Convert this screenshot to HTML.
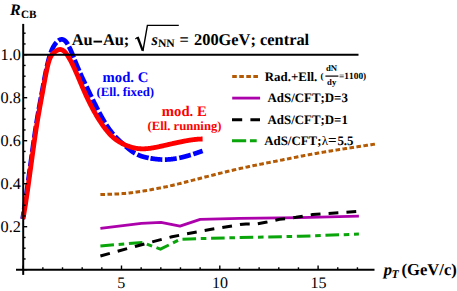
<!DOCTYPE html>
<html><head><meta charset="utf-8"><title>chart</title>
<style>
html,body{margin:0;padding:0;background:#fff;}
body{width:457px;height:291px;overflow:hidden;}
svg{display:block;}
text{font-family:"Liberation Serif",serif;font-kerning:none;text-rendering:geometricPrecision;}
.b{font-weight:bold;}
.i{font-style:italic;}
</style></head><body>
<svg width="457" height="291" viewBox="0 0 457 291">
<rect width="457" height="291" fill="#fff"/>
<!-- curves -->
<g fill="none" stroke-linejoin="round">
<path d="M100.40,194.60 L101.32,194.56 L102.24,194.53 L103.16,194.50 L104.07,194.47 L104.99,194.44 L105.91,194.41 L106.83,194.39 L107.75,194.36 L108.67,194.33 L109.58,194.30 L110.50,194.27 L111.42,194.24 L112.34,194.21 L113.26,194.17 L114.18,194.13 L115.09,194.09 L116.01,194.05 L116.93,194.00 L117.85,193.94 L118.77,193.89 L119.69,193.83 L120.60,193.76 L121.52,193.69 L122.44,193.62 L123.36,193.55 L124.28,193.48 L125.20,193.40 L126.12,193.32 L127.03,193.24 L127.95,193.16 L128.87,193.06 L129.79,192.97 L130.71,192.86 L131.63,192.75 L132.54,192.62 L133.46,192.50 L134.38,192.36 L135.30,192.23 L136.22,192.09 L137.14,191.95 L138.05,191.81 L138.97,191.67 L139.89,191.53 L140.81,191.40 L141.73,191.26 L142.65,191.12 L143.56,190.98 L144.48,190.83 L145.40,190.68 L146.32,190.53 L147.24,190.36 L148.16,190.20 L149.07,190.03 L149.99,189.86 L150.91,189.68 L151.83,189.51 L152.75,189.33 L153.67,189.16 L154.59,188.99 L155.50,188.81 L156.42,188.64 L157.34,188.47 L158.26,188.30 L159.18,188.12 L160.10,187.95 L161.01,187.78 L161.93,187.60 L162.85,187.42 L163.77,187.24 L164.69,187.06 L165.61,186.87 L166.52,186.67 L167.44,186.48 L168.36,186.27 L169.28,186.07 L170.20,185.86 L171.12,185.64 L172.03,185.43 L172.95,185.21 L173.87,184.99 L174.79,184.77 L175.71,184.55 L176.63,184.33 L177.55,184.10 L178.46,183.88 L179.38,183.65 L180.30,183.42 L181.22,183.20 L182.14,182.97 L183.06,182.74 L183.97,182.51 L184.89,182.27 L185.81,182.04 L186.73,181.81 L187.65,181.57 L188.57,181.34 L189.48,181.10 L190.40,180.87 L191.32,180.63 L192.24,180.39 L193.16,180.16 L194.08,179.92 L194.99,179.68 L195.91,179.44 L196.83,179.21 L197.75,178.97 L198.67,178.73 L199.59,178.49 L200.51,178.25 L201.42,178.01 L202.34,177.78 L203.26,177.54 L204.18,177.30 L205.10,177.06 L206.02,176.82 L206.93,176.59 L207.85,176.35 L208.77,176.12 L209.69,175.88 L210.61,175.64 L211.53,175.41 L212.44,175.18 L213.36,174.94 L214.28,174.71 L215.20,174.48 L216.12,174.25 L217.04,174.02 L217.95,173.79 L218.87,173.56 L219.79,173.33 L220.71,173.10 L221.63,172.88 L222.55,172.65 L223.46,172.43 L224.38,172.20 L225.30,171.98 L226.22,171.76 L227.14,171.54 L228.06,171.32 L228.98,171.10 L229.89,170.88 L230.81,170.66 L231.73,170.44 L232.65,170.23 L233.57,170.01 L234.49,169.80 L235.40,169.59 L236.32,169.37 L237.24,169.16 L238.16,168.95 L239.08,168.75 L240.00,168.54 L240.91,168.33 L241.83,168.13 L242.75,167.93 L243.67,167.72 L244.59,167.52 L245.51,167.32 L246.42,167.12 L247.34,166.93 L248.26,166.73 L249.18,166.54 L250.10,166.34 L251.02,166.15 L251.94,165.96 L252.85,165.77 L253.77,165.58 L254.69,165.39 L255.61,165.20 L256.53,165.02 L257.45,164.83 L258.36,164.65 L259.28,164.46 L260.20,164.28 L261.12,164.10 L262.04,163.91 L262.96,163.73 L263.87,163.55 L264.79,163.37 L265.71,163.19 L266.63,163.01 L267.55,162.83 L268.47,162.65 L269.38,162.47 L270.30,162.29 L271.22,162.11 L272.14,161.93 L273.06,161.75 L273.98,161.57 L274.89,161.39 L275.81,161.21 L276.73,161.03 L277.65,160.85 L278.57,160.67 L279.49,160.49 L280.41,160.31 L281.32,160.13 L282.24,159.95 L283.16,159.77 L284.08,159.58 L285.00,159.40 L285.92,159.22 L286.83,159.03 L287.75,158.85 L288.67,158.66 L289.59,158.48 L290.51,158.29 L291.43,158.10 L292.34,157.92 L293.26,157.73 L294.18,157.55 L295.10,157.36 L296.02,157.18 L296.94,157.00 L297.85,156.81 L298.77,156.63 L299.69,156.45 L300.61,156.27 L301.53,156.09 L302.45,155.91 L303.37,155.74 L304.28,155.56 L305.20,155.39 L306.12,155.22 L307.04,155.05 L307.96,154.88 L308.88,154.71 L309.79,154.54 L310.71,154.37 L311.63,154.21 L312.55,154.04 L313.47,153.88 L314.39,153.72 L315.30,153.56 L316.22,153.40 L317.14,153.24 L318.06,153.08 L318.98,152.92 L319.90,152.76 L320.81,152.61 L321.73,152.45 L322.65,152.29 L323.57,152.14 L324.49,151.99 L325.41,151.83 L326.33,151.68 L327.24,151.53 L328.16,151.38 L329.08,151.22 L330.00,151.07 L330.92,150.92 L331.84,150.77 L332.75,150.62 L333.67,150.48 L334.59,150.33 L335.51,150.18 L336.43,150.03 L337.35,149.89 L338.26,149.74 L339.18,149.59 L340.10,149.45 L341.02,149.30 L341.94,149.16 L342.86,149.01 L343.77,148.87 L344.69,148.72 L345.61,148.58 L346.53,148.44 L347.45,148.30 L348.37,148.15 L349.28,148.01 L350.20,147.87 L351.12,147.73 L352.04,147.59 L352.96,147.44 L353.88,147.30 L354.80,147.16 L355.71,147.02 L356.63,146.88 L357.55,146.74 L358.47,146.60 L359.39,146.46 L360.31,146.32 L361.22,146.18 L362.14,146.04 L363.06,145.90 L363.98,145.76 L364.90,145.63 L365.82,145.49 L366.73,145.35 L367.65,145.21 L368.57,145.07 L369.49,144.93 L370.41,144.79 L371.33,144.65 L372.24,144.52 L373.16,144.38 L374.08,144.24 L375.00,144.10" stroke="#b45a04" stroke-width="3" stroke-dasharray="4.6 2.45"/>
<path d="M100.40,228.40 L141.40,223.40 L161.00,222.40 L180.00,226.20 L200.20,219.40 L240.00,218.30 L300.00,217.60 L358.90,216.20" stroke="#ac02ac" stroke-width="2.8"/>
<path d="M100.40,245.90 L142.50,242.40 L160.40,249.20 L180.00,239.40 L200.00,238.60 L240.00,237.60 L300.00,236.30 L358.90,234.10" stroke="#0aa50a" stroke-width="3" stroke-dasharray="13.6 4.7 5.6 4.7"/>
<path d="M100.40,256.00 L136.00,246.20 L172.00,236.70 L210.00,229.50 L240.00,224.60 L246.00,223.90 L257.00,223.90 L267.00,222.00 L279.60,219.30 L296.00,217.30 L312.70,214.60 L356.50,211.60" stroke="#000" stroke-width="3" stroke-dasharray="9.8 8.1"/>
<path d="M22.60,219.00 L22.72,218.28 L22.84,217.55 L22.96,216.81 L23.08,216.08 L23.20,215.33 L23.32,214.59 L23.44,213.83 L23.56,213.08 L23.68,212.32 L23.80,211.55 L23.92,210.78 L24.04,210.01 L24.16,209.23 L24.28,208.45 L24.40,207.66 L24.52,206.87 L24.64,206.08 L24.76,205.28 L24.88,204.48 L25.00,203.67 L25.12,202.87 L25.24,202.06 L25.36,201.24 L25.48,200.42 L25.60,199.60 L25.72,198.78 L25.84,197.95 L25.96,197.12 L26.08,196.29 L26.20,195.46 L26.32,194.62 L26.44,193.78 L26.56,192.94 L26.68,192.09 L26.80,191.24 L26.92,190.40 L27.04,189.54 L27.16,188.69 L27.28,187.83 L27.40,186.98 L27.52,186.12 L27.64,185.26 L27.76,184.39 L27.88,183.53 L28.00,182.66 L28.12,181.80 L28.24,180.93 L28.36,180.06 L28.48,179.19 L28.60,178.32 L28.72,177.44 L28.84,176.57 L28.96,175.70 L29.08,174.82 L29.20,173.94 L29.32,173.07 L29.44,172.19 L29.56,171.31 L29.68,170.43 L29.80,169.56 L29.92,168.68 L30.04,167.80 L30.17,166.92 L30.29,166.04 L30.41,165.16 L30.53,164.29 L30.65,163.41 L30.77,162.53 L30.89,161.65 L31.01,160.78 L31.13,159.90 L31.25,159.03 L31.37,158.15 L31.49,157.28 L31.61,156.41 L31.73,155.54 L31.85,154.67 L31.97,153.80 L32.09,152.93 L32.21,152.06 L32.33,151.20 L32.45,150.33 L32.57,149.47 L32.69,148.61 L32.81,147.76 L32.93,146.90 L33.05,146.05 L33.17,145.20 L33.29,144.35 L33.41,143.50 L33.53,142.66 L33.65,141.82 L33.77,140.98 L33.89,140.14 L34.01,139.31 L34.13,138.48 L34.25,137.65 L34.37,136.83 L34.49,136.01 L34.61,135.19 L34.73,134.38 L34.85,133.57 L34.97,132.77 L35.09,131.97 L35.21,131.17 L35.33,130.38 L35.45,129.59 L35.57,128.80 L35.69,128.02 L35.81,127.25 L35.93,126.48 L36.05,125.71 L36.17,124.95 L36.29,124.19 L36.41,123.44 L36.53,122.70 L36.65,121.96 L36.77,121.22 L36.89,120.49 L37.01,119.76 L37.13,119.04 L37.25,118.32 L37.37,117.61 L37.49,116.90 L37.61,116.19 L37.73,115.49 L37.85,114.79 L37.97,114.10 L38.09,113.41 L38.21,112.72 L38.33,112.04 L38.45,111.35 L38.57,110.68 L38.69,110.00 L38.81,109.33 L38.93,108.66 L39.05,107.99 L39.17,107.32 L39.29,106.66 L39.41,106.00 L39.53,105.34 L39.65,104.68 L39.77,104.03 L39.89,103.37 L40.01,102.72 L40.13,102.07 L40.25,101.42 L40.37,100.77 L40.49,100.12 L40.61,99.47 L40.73,98.83 L40.85,98.18 L40.97,97.53 L41.09,96.89 L41.21,96.24 L41.33,95.60 L41.45,94.95 L41.57,94.30 L41.69,93.66 L41.81,93.01 L41.93,92.36 L42.05,91.71 L42.17,91.06 L42.29,90.41 L42.41,89.76 L42.53,89.11 L42.65,88.46 L42.77,87.81 L42.89,87.16 L43.01,86.51 L43.13,85.86 L43.25,85.21 L43.37,84.57 L43.49,83.92 L43.61,83.27 L43.73,82.63 L43.85,81.99 L43.97,81.34 L44.09,80.71 L44.21,80.07 L44.33,79.43 L44.45,78.80 L44.57,78.17 L44.69,77.54 L44.81,76.92 L44.93,76.30 L45.05,75.68 L45.18,75.07 L45.30,74.46 L45.42,73.85 L45.54,73.25 L45.66,72.65 L45.78,72.05 L45.90,71.46 L46.02,70.87 L46.14,70.29 L46.26,69.72 L46.38,69.15 L46.50,68.58 L46.62,68.02 L46.74,67.46 L46.86,66.91 L46.98,66.37 L47.10,65.83 L47.22,65.30 L47.34,64.78 L47.46,64.26 L47.58,63.75 L47.70,63.24 L47.82,62.75 L47.94,62.25 L48.06,61.77 L48.18,61.30 L48.30,60.83 L48.42,60.37 L48.54,59.91 L48.66,59.47 L48.78,59.03 L48.90,58.60 L49.02,58.17 L49.14,57.75 L49.26,57.34 L49.38,56.94 L49.50,56.54 L49.62,56.15 L49.74,55.76 L49.86,55.38 L49.98,55.01 L50.10,54.64 L50.22,54.28 L50.34,53.93 L50.46,53.58 L50.58,53.24 L50.70,52.91 L50.82,52.58 L50.94,52.25 L51.06,51.94 L51.18,51.62 L51.30,51.32 L51.42,51.02 L51.54,50.72 L51.66,50.43 L51.78,50.15 L51.90,49.87 L52.02,49.59 L52.14,49.32 L52.26,49.06 L52.38,48.80 L52.50,48.55 L52.62,48.30 L52.74,48.05 L52.86,47.81 L52.98,47.58 L53.10,47.35 L53.22,47.12 L53.34,46.90 L53.46,46.68 L53.58,46.47 L53.70,46.26 L53.82,46.05 L53.94,45.85 L54.06,45.65 L54.18,45.46 L54.30,45.27 L54.42,45.09 L54.54,44.90 L54.66,44.73 L54.78,44.55 L54.90,44.38 L55.02,44.21 L55.14,44.05 L55.26,43.89 L55.38,43.73 L55.50,43.57 L55.62,43.42 L55.74,43.27 L55.86,43.13 L55.98,42.99 L56.10,42.85 L56.22,42.71 L56.34,42.57 L56.46,42.44 L56.58,42.31 L56.70,42.18 L56.82,42.06 L56.94,41.94 L57.06,41.82 L57.18,41.70 L57.30,41.59 L57.42,41.47 L57.54,41.36 L57.66,41.26 L57.78,41.15 L57.90,41.05 L58.02,40.95 L58.14,40.86 L58.26,40.77 L58.38,40.68 L58.50,40.59 L58.62,40.50 L58.74,40.42 L58.86,40.34 L58.98,40.27 L59.10,40.20 L59.22,40.13 L59.34,40.06 L59.46,40.00 L59.58,39.94 L59.70,39.88 L59.82,39.82 L59.94,39.77 L60.06,39.72 L60.19,39.68 L60.31,39.64 L60.43,39.60 L60.55,39.56 L60.67,39.53 L60.79,39.50 L60.91,39.48 L61.03,39.45 L61.15,39.44 L61.27,39.42 L61.39,39.41 L61.51,39.40 L61.63,39.39 L61.75,39.39 L61.87,39.39 L61.99,39.40 L62.11,39.41 L62.23,39.42 L62.35,39.44 L62.47,39.46 L62.59,39.48 L62.71,39.51 L62.83,39.54 L62.95,39.57 L63.07,39.61 L63.19,39.65 L63.31,39.70 L63.43,39.75 L63.55,39.80 L63.67,39.86 L63.79,39.92 L63.91,39.98 L64.03,40.05 L64.15,40.13 L64.27,40.20 L64.39,40.28 L64.51,40.37 L64.63,40.46 L64.75,40.55 L64.87,40.65 L64.99,40.75 L65.11,40.86 L65.23,40.97 L65.35,41.08 L65.47,41.20 L65.59,41.32 L65.71,41.45 L65.83,41.58 L65.95,41.72 L66.07,41.86 L66.19,42.00 L66.31,42.15 L66.43,42.31 L66.55,42.47 L66.67,42.63 L66.79,42.80 L66.91,42.97 L67.03,43.14 L67.15,43.32 L67.27,43.51 L67.39,43.70 L67.51,43.89 L67.63,44.08 L67.75,44.28 L67.87,44.49 L67.99,44.70 L68.11,44.91 L68.23,45.12 L68.35,45.34 L68.47,45.56 L68.59,45.79 L68.71,46.02 L68.83,46.25 L68.95,46.48 L69.07,46.72 L69.19,46.96 L69.31,47.20 L69.43,47.45 L69.55,47.70 L69.67,47.95 L69.79,48.21 L69.91,48.46 L70.03,48.72 L70.15,48.99 L70.27,49.25 L70.39,49.52 L70.51,49.79 L70.63,50.06 L70.75,50.33 L70.87,50.61 L70.99,50.88 L71.11,51.16 L71.23,51.44 L71.35,51.72 L71.47,52.01 L71.59,52.29 L71.71,52.58 L71.83,52.87 L71.95,53.16 L72.07,53.45 L72.19,53.74 L72.31,54.04 L72.43,54.33 L72.55,54.63 L72.67,54.93 L72.79,55.22 L72.91,55.52 L73.03,55.82 L73.15,56.12 L73.27,56.42 L73.39,56.72 L73.51,57.02 L73.63,57.32 L73.75,57.62 L73.87,57.93 L73.99,58.23 L74.11,58.53 L74.23,58.83 L74.35,59.14 L74.47,59.44 L74.59,59.74 L74.71,60.04 L74.83,60.34 L74.95,60.64 L75.07,60.94 L75.20,61.24 L75.32,61.54 L75.44,61.84 L75.56,62.14 L75.68,62.43 L75.80,62.73 L75.92,63.02 L76.04,63.32 L76.16,63.61 L76.28,63.90 L76.40,64.20 L76.52,64.49 L76.64,64.78 L76.76,65.07 L76.88,65.36 L77.00,65.64 L77.12,65.93 L77.24,66.22 L77.36,66.50 L77.48,66.79 L77.60,67.07 L77.72,67.36 L77.84,67.64 L77.96,67.92 L78.08,68.20 L78.20,68.49 L78.32,68.77 L78.44,69.05 L78.56,69.32 L78.68,69.60 L78.80,69.88 L78.92,70.16 L79.04,70.43 L79.16,70.71 L79.28,70.99 L79.40,71.26 L79.52,71.53 L79.64,71.81 L79.76,72.08 L79.88,72.35 L80.00,72.62 L80.12,72.89 L80.24,73.17 L80.36,73.44 L80.48,73.70 L80.60,73.97 L80.72,74.24 L80.84,74.51 L80.96,74.78 L81.08,75.04 L81.20,75.31 L81.32,75.58 L81.44,75.84 L81.56,76.11 L81.68,76.37 L81.80,76.63 L81.92,76.90 L82.04,77.16 L82.16,77.42 L82.28,77.68 L82.40,77.95 L82.52,78.21 L82.64,78.47 L82.76,78.73 L82.88,78.99 L83.00,79.25 L83.12,79.51 L83.24,79.77 L83.36,80.02 L83.48,80.28 L83.60,80.54 L83.72,80.80 L83.84,81.05 L83.96,81.31 L84.08,81.57 L84.20,81.82 L84.32,82.08 L84.44,82.33 L84.56,82.59 L84.68,82.84 L84.80,83.10 L84.92,83.35 L85.04,83.60 L85.16,83.86 L85.28,84.11 L85.40,84.36 L85.52,84.62 L85.64,84.87 L85.76,85.12 L85.88,85.37 L86.00,85.62 L86.12,85.87 L86.24,86.13 L86.36,86.38 L86.48,86.63 L86.60,86.88 L86.72,87.13 L86.84,87.38 L86.96,87.63 L87.08,87.88 L87.20,88.13 L87.32,88.38 L87.44,88.63 L87.56,88.88 L87.68,89.13 L87.80,89.37 L87.92,89.62 L88.04,89.87 L88.16,90.12 L88.28,90.37 L88.40,90.62 L88.52,90.87 L88.64,91.11 L88.76,91.36 L88.88,91.61 L89.00,91.86 L89.12,92.11 L89.24,92.35 L89.36,92.60 L89.48,92.85 L89.60,93.10 L89.72,93.34 L89.84,93.59 L89.96,93.84 L90.08,94.09 L90.21,94.34 L90.33,94.58 L90.45,94.83 L90.57,95.08 L90.69,95.33 L90.81,95.57 L90.93,95.82 L91.05,96.07 L91.17,96.32 L91.29,96.56 L91.41,96.81 L91.53,97.06 L91.65,97.30 L91.77,97.55 L91.89,97.80 L92.01,98.04 L92.13,98.29 L92.25,98.54 L92.37,98.78 L92.49,99.03 L92.61,99.27 L92.73,99.52 L92.85,99.77 L92.97,100.01 L93.09,100.26 L93.21,100.50 L93.33,100.75 L93.45,100.99 L93.57,101.24 L93.69,101.48 L93.81,101.72 L93.93,101.97 L94.05,102.21 L94.17,102.45 L94.29,102.70 L94.41,102.94 L94.53,103.18 L94.65,103.43 L94.77,103.67 L94.89,103.91 L95.01,104.15 L95.13,104.39 L95.25,104.63 L95.37,104.87 L95.49,105.11 L95.61,105.35 L95.73,105.59 L95.85,105.83 L95.97,106.07 L96.09,106.31 L96.21,106.55 L96.33,106.79 L96.45,107.03 L96.57,107.26 L96.69,107.50 L96.81,107.74 L96.93,107.97 L97.05,108.21 L97.17,108.44 L97.29,108.68 L97.41,108.91 L97.53,109.15 L97.65,109.38 L97.77,109.62 L97.89,109.85 L98.01,110.08 L98.13,110.31 L98.25,110.55 L98.37,110.78 L98.49,111.01 L98.61,111.24 L98.73,111.47 L98.85,111.70 L98.97,111.93 L99.09,112.16 L99.21,112.38 L99.33,112.61 L99.45,112.84 L99.57,113.06 L99.69,113.29 L99.81,113.52 L99.93,113.74 L100.05,113.96 L100.17,114.19 L100.29,114.41 L100.41,114.63 L100.53,114.86 L100.65,115.08 L100.77,115.30 L100.89,115.52 L101.01,115.74 L101.13,115.96 L101.25,116.18 L101.37,116.39 L101.49,116.61 L101.61,116.83 L101.73,117.05 L101.85,117.26 L101.97,117.48 L102.09,117.69 L102.21,117.90 L102.33,118.12 L102.45,118.33 L102.57,118.54 L102.69,118.75 L102.81,118.96 L102.93,119.17 L103.05,119.38 L103.17,119.59 L103.29,119.79 L103.41,120.00 L103.53,120.21 L103.65,120.41 L103.77,120.62 L103.89,120.82 L104.01,121.02 L104.13,121.23 L104.25,121.43 L104.37,121.63 L104.49,121.83 L104.61,122.03 L104.73,122.23 L104.85,122.42 L104.97,122.62 L105.09,122.82 L105.22,123.01 L105.34,123.21 L105.46,123.40 L105.58,123.59 L105.70,123.79 L105.82,123.98 L105.94,124.17 L106.06,124.36 L106.18,124.55 L106.30,124.74 L106.42,124.93 L106.54,125.11 L106.66,125.30 L106.78,125.48 L106.90,125.67 L107.02,125.85 L107.14,126.04 L107.26,126.22 L107.38,126.40 L107.50,126.58 L107.62,126.76 L107.74,126.94 L107.86,127.12 L107.98,127.30 L108.10,127.47 L108.22,127.65 L108.34,127.82 L108.46,128.00 L108.58,128.17 L108.70,128.34 L108.82,128.52 L108.94,128.69 L109.06,128.86 L109.18,129.03 L109.30,129.20 L109.42,129.36 L109.54,129.53 L109.66,129.70 L109.78,129.86 L109.90,130.03 L110.02,130.19 L110.14,130.36 L110.26,130.52 L110.38,130.68 L110.50,130.84 L110.62,131.00 L110.74,131.16 L110.86,131.32 L110.98,131.47 L111.10,131.63 L111.22,131.79 L111.34,131.94 L111.46,132.10 L111.58,132.25 L111.70,132.40 L111.82,132.55 L111.94,132.70 L112.06,132.85 L112.18,133.00 L112.30,133.15 L112.42,133.30 L112.54,133.45 L112.66,133.59 L112.78,133.74 L112.90,133.88 L113.02,134.02 L113.14,134.17 L113.26,134.31 L113.38,134.45 L113.50,134.59 L113.62,134.73 L113.74,134.87 L113.86,135.00 L113.98,135.14 L114.10,135.28 L114.22,135.41 L114.34,135.55 L114.46,135.68 L114.58,135.81 L114.70,135.95 L114.82,136.08 L114.94,136.21 L115.06,136.34 L115.18,136.47 L115.30,136.60 L115.42,136.73 L115.54,136.85 L115.66,136.98 L115.78,137.11 L115.90,137.23 L116.02,137.36 L116.14,137.48 L116.26,137.61 L116.38,137.73 L116.50,137.85 L116.62,137.98 L116.74,138.10 L116.86,138.22 L116.98,138.34 L117.10,138.46 L117.22,138.58 L117.34,138.70 L117.46,138.82 L117.58,138.94 L117.70,139.05 L117.82,139.17 L117.94,139.29 L118.06,139.40 L118.18,139.52 L118.30,139.64 L118.42,139.75 L118.54,139.87 L118.66,139.98 L118.78,140.10 L118.90,140.21 L119.02,140.32 L119.14,140.44 L119.26,140.55 L119.38,140.66 L119.50,140.77 L119.62,140.89 L119.74,141.00 L119.86,141.11 L119.98,141.22 L120.11,141.33 L120.23,141.44 L120.35,141.55 L120.47,141.66 L120.59,141.77 L120.71,141.88 L120.83,141.99 L120.95,142.10 L121.07,142.21 L121.19,142.32 L121.31,142.43 L121.43,142.53 L121.55,142.64 L121.67,142.75 L121.79,142.86 L121.91,142.97 L122.03,143.07 L122.15,143.18 L122.27,143.29 L122.39,143.40 L122.51,143.51 L122.63,143.61 L122.75,143.72 L122.87,143.83 L122.99,143.94 L123.11,144.04 L123.23,144.15 L123.35,144.26 L123.47,144.37 L123.59,144.47 L123.71,144.58 L123.83,144.69 L123.95,144.79 L124.07,144.90 L124.19,145.01 L124.31,145.11 L124.43,145.22 L124.55,145.32 L124.67,145.43 L124.79,145.54 L124.91,145.64 L125.03,145.75 L125.15,145.85 L125.27,145.96 L125.39,146.06 L125.51,146.17 L125.63,146.27 L125.75,146.37 L125.87,146.48 L125.99,146.58 L126.11,146.69 L126.23,146.79 L126.35,146.89 L126.47,147.00 L126.59,147.10 L126.71,147.20 L126.83,147.30 L126.95,147.40 L127.07,147.51 L127.19,147.61 L127.31,147.71 L127.43,147.81 L127.55,147.91 L127.67,148.01 L127.79,148.11 L127.91,148.21 L128.03,148.31 L128.15,148.41 L128.27,148.50 L128.39,148.60 L128.51,148.70 L128.63,148.80 L128.75,148.89 L128.87,148.99 L128.99,149.09 L129.11,149.18 L129.23,149.28 L129.35,149.37 L129.47,149.47 L129.59,149.56 L129.71,149.66 L129.83,149.75 L129.95,149.84 L130.07,149.94 L130.19,150.03 L130.31,150.12 L130.43,150.21 L130.55,150.30 L130.67,150.39 L130.79,150.48 L130.91,150.57 L131.03,150.66 L131.15,150.75 L131.27,150.84 L131.39,150.93 L131.51,151.01 L131.63,151.10 L131.75,151.19 L131.87,151.27 L131.99,151.36 L132.11,151.44 L132.23,151.53 L132.35,151.61 L132.47,151.69 L132.59,151.77 L132.71,151.86 L132.83,151.94 L132.95,152.02 L133.07,152.10 L133.19,152.18 L133.31,152.26 L133.43,152.34 L133.55,152.41 L133.67,152.49 L133.79,152.57 L133.91,152.64 L134.03,152.72 L134.15,152.79 L134.27,152.87 L134.39,152.94 L134.51,153.01 L134.63,153.08 L134.75,153.16 L134.87,153.23 L134.99,153.30 L135.12,153.37 L135.24,153.44 L135.36,153.50 L135.48,153.57 L135.60,153.64 L135.72,153.70 L135.84,153.77 L135.96,153.83 L136.08,153.90 L136.20,153.96 L136.32,154.02 L136.44,154.09 L136.56,154.15 L136.68,154.21 L136.80,154.27 L136.92,154.33 L137.04,154.39 L137.16,154.45 L137.28,154.50 L137.40,154.56 L137.52,154.62 L137.64,154.67 L137.76,154.73 L137.88,154.79 L138.00,154.84 L138.12,154.89 L138.24,154.95 L138.36,155.00 L138.48,155.05 L138.60,155.10 L138.72,155.15 L138.84,155.20 L138.96,155.26 L139.08,155.30 L139.20,155.35 L139.32,155.40 L139.44,155.45 L139.56,155.50 L139.68,155.54 L139.80,155.59 L139.92,155.64 L140.04,155.68 L140.16,155.73 L140.28,155.77 L140.40,155.82 L140.52,155.86 L140.64,155.90 L140.76,155.94 L140.88,155.99 L141.00,156.03 L141.12,156.07 L141.24,156.11 L141.36,156.15 L141.48,156.19 L141.60,156.23 L141.72,156.27 L141.84,156.31 L141.96,156.35 L142.08,156.38 L142.20,156.42 L142.32,156.46 L142.44,156.50 L142.56,156.53 L142.68,156.57 L142.80,156.60 L142.92,156.64 L143.04,156.67 L143.16,156.71 L143.28,156.74 L143.40,156.77 L143.52,156.81 L143.64,156.84 L143.76,156.87 L143.88,156.91 L144.00,156.94 L144.12,156.97 L144.24,157.00 L144.36,157.03 L144.48,157.06 L144.60,157.09 L144.72,157.12 L144.84,157.15 L144.96,157.18 L145.08,157.21 L145.20,157.24 L145.32,157.27 L145.44,157.29 L145.56,157.32 L145.68,157.35 L145.80,157.38 L145.92,157.40 L146.04,157.43 L146.16,157.46 L146.28,157.48 L146.40,157.51 L146.52,157.54 L146.64,157.56 L146.76,157.59 L146.88,157.61 L147.00,157.64 L147.12,157.66 L147.24,157.69 L147.36,157.71 L147.48,157.73 L147.60,157.76 L147.72,157.78 L147.84,157.81 L147.96,157.83 L148.08,157.85 L148.20,157.88 L148.32,157.90 L148.44,157.92 L148.56,157.94 L148.68,157.97 L148.80,157.99 L148.92,158.01 L149.04,158.03 L149.16,158.05 L149.28,158.07 L149.40,158.10 L149.52,158.12 L149.64,158.14 L149.76,158.16 L149.88,158.18 L150.00,158.20 L150.13,158.22 L150.25,158.24 L150.37,158.26 L150.49,158.28 L150.61,158.30 L150.73,158.32 L150.85,158.34 L150.97,158.36 L151.09,158.38 L151.21,158.40 L151.33,158.42 L151.45,158.44 L151.57,158.46 L151.69,158.48 L151.81,158.50 L151.93,158.52 L152.05,158.54 L152.17,158.56" stroke="#0000ff" stroke-width="4.7" stroke-dasharray="11.85 2.6" stroke-dashoffset="4.6"/>
<path d="M150.49,158.28 L150.61,158.30 L150.73,158.32 L150.85,158.34 L150.97,158.36 L151.09,158.38 L151.21,158.40 L151.33,158.42 L151.45,158.44 L151.57,158.46 L151.69,158.48 L151.81,158.50 L151.93,158.52 L152.05,158.54 L152.17,158.56 L152.29,158.58 L152.41,158.59 L152.53,158.61 L152.65,158.63 L152.77,158.65 L152.89,158.67 L153.01,158.68 L153.13,158.70 L153.25,158.72 L153.37,158.74 L153.49,158.75 L153.61,158.77 L153.73,158.79 L153.85,158.81 L153.97,158.82 L154.09,158.84 L154.21,158.86 L154.33,158.87 L154.45,158.89 L154.57,158.90 L154.69,158.92 L154.81,158.94 L154.93,158.95 L155.05,158.97 L155.17,158.98 L155.29,159.00 L155.41,159.01 L155.53,159.03 L155.65,159.04 L155.77,159.06 L155.89,159.07 L156.01,159.09 L156.13,159.10 L156.25,159.11 L156.37,159.13 L156.49,159.14 L156.61,159.15 L156.73,159.17 L156.85,159.18 L156.97,159.19 L157.09,159.21 L157.21,159.22 L157.33,159.23 L157.45,159.24 L157.57,159.25 L157.69,159.27 L157.81,159.28 L157.93,159.29 L158.05,159.30 L158.17,159.31 L158.29,159.32 L158.41,159.33 L158.53,159.34 L158.65,159.35 L158.77,159.36 L158.89,159.37 L159.01,159.38 L159.13,159.39 L159.25,159.40 L159.37,159.41 L159.49,159.42 L159.61,159.43 L159.73,159.44 L159.85,159.45 L159.97,159.45 L160.09,159.46 L160.21,159.47 L160.33,159.48 L160.45,159.48 L160.57,159.49 L160.69,159.50 L160.81,159.50 L160.93,159.51 L161.05,159.52 L161.17,159.52 L161.29,159.53 L161.41,159.53 L161.53,159.54 L161.65,159.55 L161.77,159.55 L161.89,159.56 L162.01,159.56 L162.13,159.56 L162.25,159.57 L162.37,159.57 L162.49,159.58 L162.61,159.58 L162.73,159.58 L162.85,159.58 L162.97,159.59 L163.09,159.59 L163.21,159.59 L163.33,159.59 L163.45,159.60 L163.57,159.60 L163.69,159.60 L163.81,159.60 L163.93,159.60 L164.05,159.60 L164.17,159.60 L164.29,159.60 L164.41,159.60 L164.53,159.60 L164.65,159.60 L164.77,159.60 L164.89,159.60 L165.01,159.60 L165.14,159.59 L165.26,159.59 L165.38,159.59 L165.50,159.59 L165.62,159.58 L165.74,159.58 L165.86,159.58 L165.98,159.58 L166.10,159.57 L166.22,159.57 L166.34,159.56 L166.46,159.56 L166.58,159.55 L166.70,159.55 L166.82,159.55 L166.94,159.54 L167.06,159.53 L167.18,159.53 L167.30,159.52 L167.42,159.52 L167.54,159.51 L167.66,159.50 L167.78,159.50 L167.90,159.49 L168.02,159.48 L168.14,159.48 L168.26,159.47 L168.38,159.46 L168.50,159.45 L168.62,159.44 L168.74,159.43 L168.86,159.43 L168.98,159.42 L169.10,159.41 L169.22,159.40 L169.34,159.39 L169.46,159.38 L169.58,159.37 L169.70,159.36 L169.82,159.35 L169.94,159.34 L170.06,159.33 L170.18,159.32 L170.30,159.30 L170.42,159.29 L170.54,159.28 L170.66,159.27 L170.78,159.26 L170.90,159.24 L171.02,159.23 L171.14,159.22 L171.26,159.21 L171.38,159.19 L171.50,159.18 L171.62,159.17 L171.74,159.15 L171.86,159.14 L171.98,159.12 L172.10,159.11 L172.22,159.09 L172.34,159.08 L172.46,159.07 L172.58,159.05 L172.70,159.03 L172.82,159.02 L172.94,159.00 L173.06,158.99 L173.18,158.97 L173.30,158.95 L173.42,158.94 L173.54,158.92 L173.66,158.90 L173.78,158.89 L173.90,158.87 L174.02,158.85 L174.14,158.83 L174.26,158.82 L174.38,158.80 L174.50,158.78 L174.62,158.76 L174.74,158.74 L174.86,158.72 L174.98,158.71 L175.10,158.69 L175.22,158.67 L175.34,158.65 L175.46,158.63 L175.58,158.61 L175.70,158.59 L175.82,158.57 L175.94,158.55 L176.06,158.53 L176.18,158.51 L176.30,158.49 L176.42,158.46 L176.54,158.44 L176.66,158.42 L176.78,158.40 L176.90,158.38 L177.02,158.36 L177.14,158.33 L177.26,158.31 L177.38,158.29 L177.50,158.27 L177.62,158.24 L177.74,158.22 L177.86,158.20 L177.98,158.17 L178.10,158.15 L178.22,158.13 L178.34,158.10 L178.46,158.08 L178.58,158.05 L178.70,158.03 L178.82,158.01 L178.94,157.98 L179.06,157.96 L179.18,157.93 L179.30,157.91 L179.42,157.88 L179.54,157.86 L179.66,157.83 L179.78,157.80 L179.90,157.78 L180.02,157.75 L180.15,157.73 L180.27,157.70 L180.39,157.67 L180.51,157.65 L180.63,157.62 L180.75,157.59 L180.87,157.57 L180.99,157.54 L181.11,157.51 L181.23,157.48 L181.35,157.46 L181.47,157.43 L181.59,157.40 L181.71,157.37 L181.83,157.34 L181.95,157.32 L182.07,157.29 L182.19,157.26 L182.31,157.23 L182.43,157.20 L182.55,157.17 L182.67,157.14 L182.79,157.11 L182.91,157.08 L183.03,157.05 L183.15,157.02 L183.27,156.99 L183.39,156.96 L183.51,156.93 L183.63,156.90 L183.75,156.87 L183.87,156.84 L183.99,156.81 L184.11,156.78 L184.23,156.75 L184.35,156.72 L184.47,156.69 L184.59,156.66 L184.71,156.62 L184.83,156.59 L184.95,156.56 L185.07,156.53 L185.19,156.50 L185.31,156.47 L185.43,156.43 L185.55,156.40 L185.67,156.37 L185.79,156.34 L185.91,156.30 L186.03,156.27 L186.15,156.24 L186.27,156.20 L186.39,156.17 L186.51,156.14 L186.63,156.10 L186.75,156.07 L186.87,156.04 L186.99,156.00 L187.11,155.97 L187.23,155.94 L187.35,155.90 L187.47,155.87 L187.59,155.83 L187.71,155.80 L187.83,155.76 L187.95,155.73 L188.07,155.69 L188.19,155.66 L188.31,155.62 L188.43,155.59 L188.55,155.55 L188.67,155.52 L188.79,155.48 L188.91,155.45 L189.03,155.41 L189.15,155.38 L189.27,155.34 L189.39,155.30 L189.51,155.27 L189.63,155.23 L189.75,155.20 L189.87,155.16 L189.99,155.12 L190.11,155.09 L190.23,155.05 L190.35,155.01 L190.47,154.98 L190.59,154.94 L190.71,154.90 L190.83,154.87 L190.95,154.83 L191.07,154.79 L191.19,154.75 L191.31,154.72 L191.43,154.68 L191.55,154.64 L191.67,154.60 L191.79,154.57 L191.91,154.53 L192.03,154.49 L192.15,154.45 L192.27,154.41 L192.39,154.38 L192.51,154.34 L192.63,154.30 L192.75,154.26 L192.87,154.22 L192.99,154.18 L193.11,154.15 L193.23,154.11 L193.35,154.07 L193.47,154.03 L193.59,153.99 L193.71,153.95 L193.83,153.91 L193.95,153.87 L194.07,153.83 L194.19,153.79 L194.31,153.75 L194.43,153.71 L194.55,153.68 L194.67,153.64 L194.79,153.60 L194.91,153.56 L195.03,153.52 L195.16,153.48 L195.28,153.44 L195.40,153.40 L195.52,153.36 L195.64,153.32 L195.76,153.28 L195.88,153.24 L196.00,153.20 L196.12,153.15 L196.24,153.11 L196.36,153.07 L196.48,153.03 L196.60,152.99 L196.72,152.95 L196.84,152.91 L196.96,152.87 L197.08,152.83 L197.20,152.79 L197.32,152.75 L197.44,152.71 L197.56,152.67 L197.68,152.62 L197.80,152.58 L197.92,152.54 L198.04,152.50 L198.16,152.46 L198.28,152.42 L198.40,152.38 L198.52,152.33 L198.64,152.29 L198.76,152.25 L198.88,152.21 L199.00,152.17 L199.12,152.13 L199.24,152.08 L199.36,152.04 L199.48,152.00 L199.60,151.96 L199.72,151.92 L199.84,151.88 L199.96,151.83 L200.08,151.79 L200.20,151.75 L200.32,151.71 L200.44,151.66 L200.56,151.62 L200.68,151.58 L200.80,151.54 L200.92,151.50 L201.04,151.45 L201.16,151.41 L201.28,151.37 L201.40,151.33 L201.52,151.28 L201.64,151.24 L201.76,151.20 L201.88,151.16 L202.00,151.11 L202.12,151.07 L202.24,151.03 L202.36,150.99 L202.48,150.94 L202.60,150.90" stroke="#0000ff" stroke-width="4.7" stroke-dasharray="11.9 2.6"/>
<path d="M23.00,219.00 L23.60,215.63 L24.20,212.11 L24.80,208.44 L25.40,204.64 L26.00,200.72 L26.60,196.69 L27.20,192.57 L27.81,188.38 L28.41,184.11 L29.01,179.79 L29.61,175.43 L30.21,171.04 L30.81,166.64 L31.41,162.24 L32.01,157.84 L32.61,153.47 L33.21,149.14 L33.81,144.85 L34.41,140.63 L35.01,136.49 L35.61,132.43 L36.21,128.48 L36.82,124.65 L37.42,120.95 L38.02,117.37 L38.62,113.89 L39.22,110.49 L39.82,107.16 L40.42,103.87 L41.02,100.60 L41.62,97.35 L42.22,94.08 L42.82,90.77 L43.42,87.44 L44.02,84.11 L44.62,80.82 L45.22,77.59 L45.83,74.47 L46.43,71.49 L47.03,68.67 L47.63,66.06 L48.23,63.68 L48.83,61.57 L49.43,59.75 L50.03,58.20 L50.63,56.87 L51.23,55.76 L51.83,54.82 L52.43,54.04 L53.03,53.38 L53.63,52.82 L54.23,52.33 L54.84,51.87 L55.44,51.44 L56.04,51.03 L56.64,50.65 L57.24,50.31 L57.84,50.02 L58.44,49.79 L59.04,49.61 L59.64,49.51 L60.24,49.49 L60.84,49.55 L61.44,49.69 L62.04,49.91 L62.64,50.20 L63.24,50.58 L63.85,51.03 L64.45,51.56 L65.05,52.16 L65.65,52.83 L66.25,53.57 L66.85,54.38 L67.45,55.25 L68.05,56.17 L68.65,57.15 L69.25,58.18 L69.85,59.25 L70.45,60.36 L71.05,61.52 L71.65,62.70 L72.25,63.92 L72.86,65.17 L73.46,66.44 L74.06,67.74 L74.66,69.06 L75.26,70.40 L75.86,71.76 L76.46,73.13 L77.06,74.52 L77.66,75.92 L78.26,77.32 L78.86,78.74 L79.46,80.16 L80.06,81.58 L80.66,83.00 L81.26,84.42 L81.87,85.83 L82.47,87.24 L83.07,88.64 L83.67,90.02 L84.27,91.40 L84.87,92.76 L85.47,94.10 L86.07,95.42 L86.67,96.73 L87.27,98.01 L87.87,99.28 L88.47,100.53 L89.07,101.76 L89.67,102.98 L90.27,104.17 L90.88,105.35 L91.48,106.51 L92.08,107.66 L92.68,108.78 L93.28,109.89 L93.88,110.99 L94.48,112.07 L95.08,113.13 L95.68,114.17 L96.28,115.20 L96.88,116.22 L97.48,117.22 L98.08,118.20 L98.68,119.17 L99.28,120.12 L99.89,121.06 L100.49,121.98 L101.09,122.89 L101.69,123.78 L102.29,124.66 L102.89,125.52 L103.49,126.37 L104.09,127.20 L104.69,128.01 L105.29,128.80 L105.89,129.58 L106.49,130.34 L107.09,131.08 L107.69,131.80 L108.29,132.50 L108.90,133.19 L109.50,133.85 L110.10,134.49 L110.70,135.11 L111.30,135.70 L111.90,136.28 L112.50,136.83 L113.10,137.37 L113.70,137.88 L114.30,138.37 L114.90,138.85 L115.50,139.31 L116.10,139.75 L116.70,140.17 L117.31,140.58 L117.91,140.98 L118.51,141.36 L119.11,141.73 L119.71,142.08 L120.31,142.43 L120.91,142.76 L121.51,143.08 L122.11,143.40 L122.71,143.71 L123.31,144.01 L123.91,144.30 L124.51,144.58 L125.11,144.86 L125.71,145.12 L126.32,145.38 L126.92,145.63 L127.52,145.87 L128.12,146.11 L128.72,146.33 L129.32,146.54 L129.92,146.75 L130.52,146.95 L131.12,147.13 L131.72,147.31 L132.32,147.48 L132.92,147.63 L133.52,147.78 L134.12,147.92 L134.72,148.05 L135.33,148.16 L135.93,148.27 L136.53,148.36 L137.13,148.45 L137.73,148.53 L138.33,148.59 L138.93,148.65 L139.53,148.70 L140.13,148.74 L140.73,148.77 L141.33,148.79 L141.93,148.81 L142.53,148.81 L143.13,148.81 L143.73,148.80 L144.34,148.78 L144.94,148.76 L145.54,148.73 L146.14,148.69 L146.74,148.65 L147.34,148.60 L147.94,148.54 L148.54,148.48 L149.14,148.41 L149.74,148.34 L150.34,148.26 L150.94,148.17 L151.54,148.08 L152.14,147.99 L152.74,147.89 L153.35,147.79 L153.95,147.69 L154.55,147.58 L155.15,147.47 L155.75,147.35 L156.35,147.23 L156.95,147.11 L157.55,146.99 L158.15,146.86 L158.75,146.73 L159.35,146.60 L159.95,146.47 L160.55,146.34 L161.15,146.20 L161.75,146.07 L162.36,145.93 L162.96,145.80 L163.56,145.66 L164.16,145.52 L164.76,145.39 L165.36,145.25 L165.96,145.11 L166.56,144.97 L167.16,144.83 L167.76,144.70 L168.36,144.56 L168.96,144.42 L169.56,144.28 L170.16,144.15 L170.76,144.01 L171.37,143.87 L171.97,143.74 L172.57,143.60 L173.17,143.47 L173.77,143.33 L174.37,143.20 L174.97,143.07 L175.57,142.93 L176.17,142.80 L176.77,142.67 L177.37,142.54 L177.97,142.41 L178.57,142.28 L179.17,142.16 L179.77,142.03 L180.38,141.91 L180.98,141.79 L181.58,141.66 L182.18,141.54 L182.78,141.43 L183.38,141.31 L183.98,141.19 L184.58,141.08 L185.18,140.97 L185.78,140.86 L186.38,140.75 L186.98,140.64 L187.58,140.54 L188.18,140.43 L188.78,140.33 L189.39,140.24 L189.99,140.14 L190.59,140.05 L191.19,139.96 L191.79,139.88 L192.39,139.79 L192.99,139.72 L193.59,139.64 L194.19,139.57 L194.79,139.50 L195.39,139.43 L195.99,139.37 L196.59,139.32 L197.19,139.26 L197.79,139.22 L198.40,139.17 L199.00,139.13 L199.60,139.10 L200.20,139.07 L200.80,139.04 L201.40,139.02 L202.00,139.01 L202.60,139.00" stroke="#ff0000" stroke-width="4.8"/>
</g>
<!-- axes -->
<g stroke="#000" stroke-width="2" fill="none">
<line x1="16" y1="269.7" x2="374.5" y2="269.7"/>
<line x1="23.2" y1="23.9" x2="23.2" y2="274.9"/>
<line x1="23.2" y1="54.70" x2="358.5" y2="54.80"/>
</g>
<g stroke="#000" stroke-width="1.4" fill="none">
<line x1="23.20" y1="269.7" x2="23.20" y2="265.5"/>
<line x1="42.86" y1="269.7" x2="42.86" y2="267.3"/>
<line x1="62.52" y1="269.7" x2="62.52" y2="267.3"/>
<line x1="82.18" y1="269.7" x2="82.18" y2="267.3"/>
<line x1="101.84" y1="269.7" x2="101.84" y2="267.3"/>
<line x1="121.50" y1="269.7" x2="121.50" y2="265.5"/>
<line x1="141.16" y1="269.7" x2="141.16" y2="267.3"/>
<line x1="160.82" y1="269.7" x2="160.82" y2="267.3"/>
<line x1="180.48" y1="269.7" x2="180.48" y2="267.3"/>
<line x1="200.14" y1="269.7" x2="200.14" y2="267.3"/>
<line x1="219.80" y1="269.7" x2="219.80" y2="265.5"/>
<line x1="239.46" y1="269.7" x2="239.46" y2="267.3"/>
<line x1="259.12" y1="269.7" x2="259.12" y2="267.3"/>
<line x1="278.78" y1="269.7" x2="278.78" y2="267.3"/>
<line x1="298.44" y1="269.7" x2="298.44" y2="267.3"/>
<line x1="318.10" y1="269.7" x2="318.10" y2="265.5"/>
<line x1="337.76" y1="269.7" x2="337.76" y2="267.3"/>
<line x1="357.42" y1="269.7" x2="357.42" y2="267.3"/>
<line x1="23.2" y1="269.70" x2="27.2" y2="269.70"/>
<line x1="23.2" y1="258.95" x2="25.599999999999998" y2="258.95"/>
<line x1="23.2" y1="248.20" x2="25.599999999999998" y2="248.20"/>
<line x1="23.2" y1="237.45" x2="25.599999999999998" y2="237.45"/>
<line x1="23.2" y1="226.70" x2="27.2" y2="226.70"/>
<line x1="23.2" y1="215.95" x2="25.599999999999998" y2="215.95"/>
<line x1="23.2" y1="205.20" x2="25.599999999999998" y2="205.20"/>
<line x1="23.2" y1="194.45" x2="25.599999999999998" y2="194.45"/>
<line x1="23.2" y1="183.70" x2="27.2" y2="183.70"/>
<line x1="23.2" y1="172.95" x2="25.599999999999998" y2="172.95"/>
<line x1="23.2" y1="162.20" x2="25.599999999999998" y2="162.20"/>
<line x1="23.2" y1="151.45" x2="25.599999999999998" y2="151.45"/>
<line x1="23.2" y1="140.70" x2="27.2" y2="140.70"/>
<line x1="23.2" y1="129.95" x2="25.599999999999998" y2="129.95"/>
<line x1="23.2" y1="119.20" x2="25.599999999999998" y2="119.20"/>
<line x1="23.2" y1="108.45" x2="25.599999999999998" y2="108.45"/>
<line x1="23.2" y1="97.70" x2="27.2" y2="97.70"/>
<line x1="23.2" y1="86.95" x2="25.599999999999998" y2="86.95"/>
<line x1="23.2" y1="76.20" x2="25.599999999999998" y2="76.20"/>
<line x1="23.2" y1="65.45" x2="25.599999999999998" y2="65.45"/>
<line x1="23.2" y1="54.70" x2="27.2" y2="54.70"/>
<line x1="23.2" y1="43.95" x2="25.599999999999998" y2="43.95"/>
<line x1="23.2" y1="33.20" x2="25.599999999999998" y2="33.20"/>
</g>
<!-- tick labels -->
<g font-size="16.3" text-anchor="end">
<text x="20.9" y="60.10">1.0</text>
<text x="20.9" y="103.10">0.8</text>
<text x="20.9" y="146.10">0.6</text>
<text x="20.9" y="189.10">0.4</text>
<text x="20.9" y="232.10">0.2</text>
</g>
<g font-size="16" text-anchor="middle">
<text x="121.2" y="287.8">5</text>
<text x="220.1" y="287.8">10</text>
<text x="318.4" y="287.8">15</text>
</g>
<!-- axis labels -->
<text x="9.9" y="14.6" font-size="16" class="b i">R</text>
<text x="20.9" y="17.6" font-size="11.2" class="b">CB</text>
<text x="383.8" y="274.7" font-size="16.6" class="b i">p</text>
<text x="391.4" y="278" font-size="11.8" class="b i">T</text>
<text x="401.5" y="274.7" font-size="16.6" class="b">(GeV/c)</text>
<!-- title -->
<g font-size="16.4" class="b">
<text x="71.7" y="44.6">Au</text>
<line x1="93.5" y1="41.6" x2="102.1" y2="41.6" stroke="#000" stroke-width="1.9"/>
<text x="102.9" y="44.6">Au;</text>
<text x="151.4" y="44.6" class="i">s</text>
<text x="158" y="47.4" font-size="11.6">NN</text>
<text x="179.4" y="44.6">=</text>
<text x="194.0" y="44.6">200GeV; central</text>
</g>
<path d="M135.3,39.0 L137.8,37.2" fill="none" stroke="#000" stroke-width="1.1"/>
<path d="M137.6,37.0 L142.7,50.6" fill="none" stroke="#000" stroke-width="2.3"/>
<path d="M142.9,51.2 L147.4,25.4 L178.8,25.4" fill="none" stroke="#000" stroke-width="1.4"/>
<!-- curve labels -->
<g class="b" text-anchor="middle">
<text x="125.4" y="82" font-size="14.7" fill="#0000ff">mod. C</text>
<text x="125.3" y="96" font-size="12.8" fill="#0000ff">(Ell. fixed)</text>
<text x="184.3" y="116.3" font-size="14.7" fill="#ff0000">mod. E</text>
<text x="184.5" y="129.5" font-size="12.7" fill="#ff0000">(Ell. running)</text>
</g>
<!-- legend -->
<g fill="none">
<line x1="232.2" y1="76.4" x2="258" y2="76.4" stroke="#b45a04" stroke-width="3" stroke-dasharray="4.6 2.45"/>
<line x1="232.2" y1="98.1" x2="260.1" y2="98.1" stroke="#ac02ac" stroke-width="2.8"/>
<line x1="232" y1="119.7" x2="260" y2="119.7" stroke="#000" stroke-width="3" stroke-dasharray="10.2 8.2"/>
<line x1="232" y1="140.7" x2="256.9" y2="140.7" stroke="#0aa50a" stroke-width="3" stroke-dasharray="14.2 3.7 6.8 4"/>
</g>
<g class="b" font-size="12.9">
<text x="264.8" y="80.5">Rad.+Ell.</text>
<text x="267.5" y="102.4">AdS/CFT;D=3</text>
<text x="267.5" y="123.8">AdS/CFT;D=1</text>
<text x="264.2" y="145.3">AdS/CFT;</text>
<text x="321.7" y="145.3" font-weight="normal">λ</text>
<text x="327.9" y="145.4" font-size="15.2">=</text>
<text x="337.4" y="145.3">5.5</text>
</g>
<g class="b" font-size="9">
<text x="320.6" y="78.8" font-size="9.2">(</text>
<text x="331.5" y="70.5" text-anchor="middle" font-size="8.7">dN</text>
<line x1="325.4" y1="76.1" x2="338.4" y2="76.1" stroke="#000" stroke-width="1.2"/>
<text x="331.7" y="85" text-anchor="middle" font-size="8.7">dy</text>
<text x="339" y="79" font-size="9.4">=1100)</text>
</g>
</svg>
</body></html>
